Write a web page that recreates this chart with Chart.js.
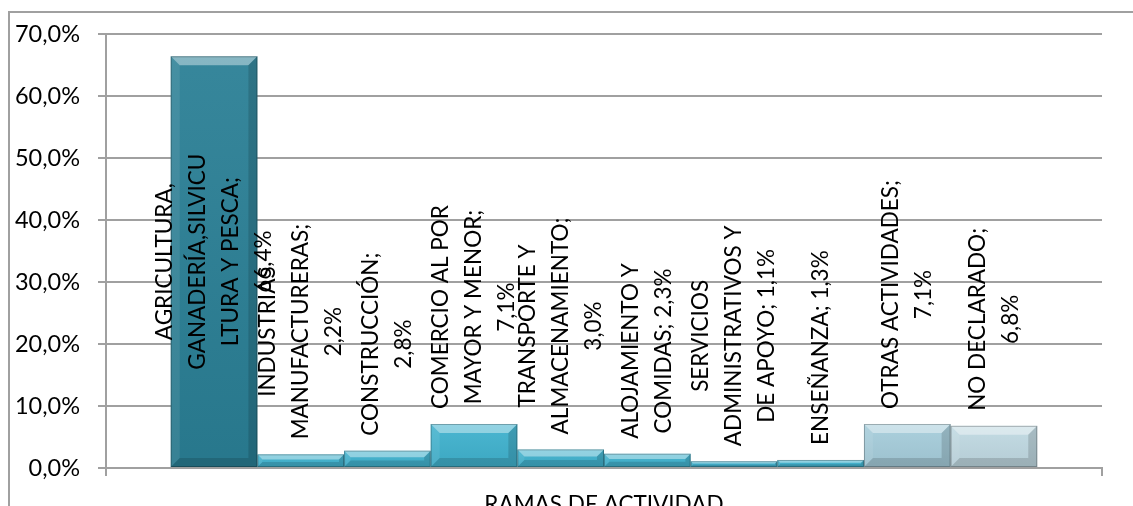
<!DOCTYPE html>
<html>
<head>
<meta charset="utf-8">
<script src="https://cdn.jsdelivr.net/npm/chart.js@4/dist/chart.umd.min.js"></script>
<style>
    html, body { margin: 0; padding: 0; background: #fff; overflow: hidden; }
    #frame {
        position: absolute; left: 8px; top: 11px;
        width: 1200px; height: 600px;
        border: 2px solid #a0a0a0;
    }
    #wrap { position: absolute; left: 0; top: 0; width: 1133px; height: 506px; }
</style>
</head>
<body>
<div id="frame"></div>
<div id="wrap"><canvas id="ramasChart"></canvas></div>
<script>
// Categoria unica en el eje X; cada rama es una serie
const categories = ['RAMAS DE ACTIVIDAD'];

const seriesNames = [
    'AGRICULTURA, GANADERÍA,SILVICULTURA Y PESCA',
    'INDUSTRIAS MANUFACTURERAS',
    'CONSTRUCCIÓN',
    'COMERCIO AL POR MAYOR Y MENOR',
    'TRANSPORTE Y ALMACENAMIENTO',
    'ALOJAMIENTO Y COMIDAS',
    'SERVICIOS ADMINISTRATIVOS Y DE APOYO',
    'ENSEÑANZA',
    'OTRAS ACTIVIDADES',
    'NO DECLARADO'
];

const seriesValues = [66.4, 2.2, 2.8, 7.1, 3.0, 2.3, 1.1, 1.3, 7.1, 6.8];

// Etiquetas tal como aparecen partidas en la imagen
const labelLines = [
    ['AGRICULTURA,', 'GANADERÍA,SILVICU', 'LTURA Y PESCA;', '66,4%'],
    ['INDUSTRIAS', 'MANUFACTURERAS;', '2,2%'],
    ['CONSTRUCCIÓN;', '2,8%'],
    ['COMERCIO AL POR', 'MAYOR Y MENOR;', '7,1%'],
    ['TRANSPORTE Y', 'ALMACENAMIENTO;', '3,0%'],
    ['ALOJAMIENTO Y', 'COMIDAS; 2,3%'],
    ['SERVICIOS', 'ADMINISTRATIVOS Y', 'DE APOYO; 1,1%'],
    ['ENSEÑANZA; 1,3%'],
    ['OTRAS ACTIVIDADES;', '7,1%'],
    ['NO DECLARADO;', '6,8%']
];

const seriesColors = [
    '#2a7f95', '#40b2ce', '#40b2ce', '#40b2ce', '#40b2ce',
    '#40b2ce', '#40b2ce', '#40b2ce', '#a6cddb', '#c0d9e2'
];

const yTicks = [0, 10, 20, 30, 40, 50, 60, 70];

const fmtPct = v => v.toFixed(1).replace('.', ',') + '%';

// Efecto biselado de Excel sobre cada barra
const bevelPlugin = {
    id: 'bevel',
    afterDatasetsDraw(chart) {
        const ctx = chart.ctx;
        chart.data.datasets.forEach((ds, i) => {
            const el = chart.getDatasetMeta(i).data[0];
            if (!el) return;
            const l = el.x - el.width / 2, r = el.x + el.width / 2;
            const t = el.y, b = el.base;
            const s = Math.min(9, (b - t) * 0.4);
            ctx.save();
            // cara con degradado suave
            const g = ctx.createLinearGradient(0, t, 0, b);
            g.addColorStop(0, 'rgba(255,255,255,0.06)');
            g.addColorStop(1, 'rgba(0,0,0,0.06)');
            ctx.fillStyle = g;
            ctx.fillRect(l, t, r - l, b - t);
            // borde superior claro
            ctx.fillStyle = 'rgba(255,255,255,0.4)';
            ctx.beginPath();
            ctx.moveTo(l, t); ctx.lineTo(r, t); ctx.lineTo(r - s, t + s); ctx.lineTo(l + s, t + s);
            ctx.closePath(); ctx.fill();
            // lado izquierdo
            ctx.fillStyle = 'rgba(255,255,255,0.08)';
            ctx.beginPath();
            ctx.moveTo(l, t); ctx.lineTo(l + s, t + s); ctx.lineTo(l + s, b - s); ctx.lineTo(l, b);
            ctx.closePath(); ctx.fill();
            // lado derecho
            ctx.fillStyle = 'rgba(0,0,0,0.14)';
            ctx.beginPath();
            ctx.moveTo(r, t); ctx.lineTo(r - s, t + s); ctx.lineTo(r - s, b - s); ctx.lineTo(r, b);
            ctx.closePath(); ctx.fill();
            // borde inferior
            ctx.fillStyle = 'rgba(0,0,0,0.14)';
            ctx.beginPath();
            ctx.moveTo(l, b); ctx.lineTo(r, b); ctx.lineTo(r - s, b - s); ctx.lineTo(l + s, b - s);
            ctx.closePath(); ctx.fill();
            ctx.strokeStyle = 'rgba(0,0,0,0.25)';
            ctx.lineWidth = 1;
            ctx.strokeRect(l + 0.5, t + 0.5, r - l - 1, b - t - 1);
            ctx.restore();
        });
    }
};

// Etiquetas de datos giradas 90 grados
const rotatedLabels = {
    id: 'rotatedLabels',
    afterDraw(chart) {
        const ctx = chart.ctx;
        const area = chart.chartArea;
        const lh = 33, gap = 15;
        ctx.save();
        ctx.font = '22.5px Lato';
        ctx.fillStyle = '#000';
        ctx.textAlign = 'center';
        ctx.textBaseline = 'middle';
        chart.data.datasets.forEach((ds, i) => {
            const el = chart.getDatasetMeta(i).data[0];
            if (!el) return;
            const lines = labelLines[i];
            const maxW = Math.max(...lines.map(s => ctx.measureText(s).width));
            let cy;
            if (el.y - gap - maxW >= area.top) {
                cy = el.y - gap - maxW / 2;
            } else {
                cy = (el.y + el.base) / 2;
            }
            ctx.save();
            ctx.translate(el.x, cy);
            ctx.rotate(-Math.PI / 2);
            lines.forEach((s, k) => {
                ctx.fillText(s, 0, (k - (lines.length - 1) / 2) * lh);
            });
            ctx.restore();
        });
        ctx.restore();
    }
};

const datasets = seriesNames.map((name, i) => ({
    label: name,
    data: [seriesValues[i]],
    backgroundColor: seriesColors[i],
    borderWidth: 0,
    categoryPercentage: 0.87,
    barPercentage: 1.0
}));

new Chart(document.getElementById('ramasChart'), {
    type: 'bar',
    data: { labels: categories, datasets: datasets },
    options: {
        responsive: true,
        maintainAspectRatio: false,
        animation: false,
        layout: { padding: { top: 34, right: 31, left: 0, bottom: 0 } },
        plugins: {
            legend: { display: false },
            tooltip: { enabled: false }
        },
        scales: {
            x: {
                grid: {
                    drawOnChartArea: false,
                    drawTicks: true,
                    tickLength: 8,
                    color: '#a0a0a0',
                    lineWidth: 2
                },
                border: { display: true, color: '#a0a0a0', width: 2 },
                ticks: {
                    color: '#000',
                    font: { family: 'Lato', size: 22.5 },
                    padding: 15,
                    maxRotation: 0
                },
                afterFit(scale) { scale.height = 38; }
            },
            y: {
                min: 0,
                max: 70,
                afterBuildTicks(scale) { scale.ticks = yTicks.map(v => ({ value: v })); },
                grid: { color: '#a0a0a0', lineWidth: 2, tickLength: 8 },
                border: { display: true, color: '#a0a0a0', width: 2 },
                ticks: {
                    color: '#000',
                    font: { family: 'Lato', size: 23.5 },
                    padding: 18,
                    callback: v => fmtPct(v)
                },
                afterFit(scale) { scale.width = 106; }
            }
        }
    },
    plugins: [bevelPlugin, rotatedLabels]
});
</script>
</body>
</html>
